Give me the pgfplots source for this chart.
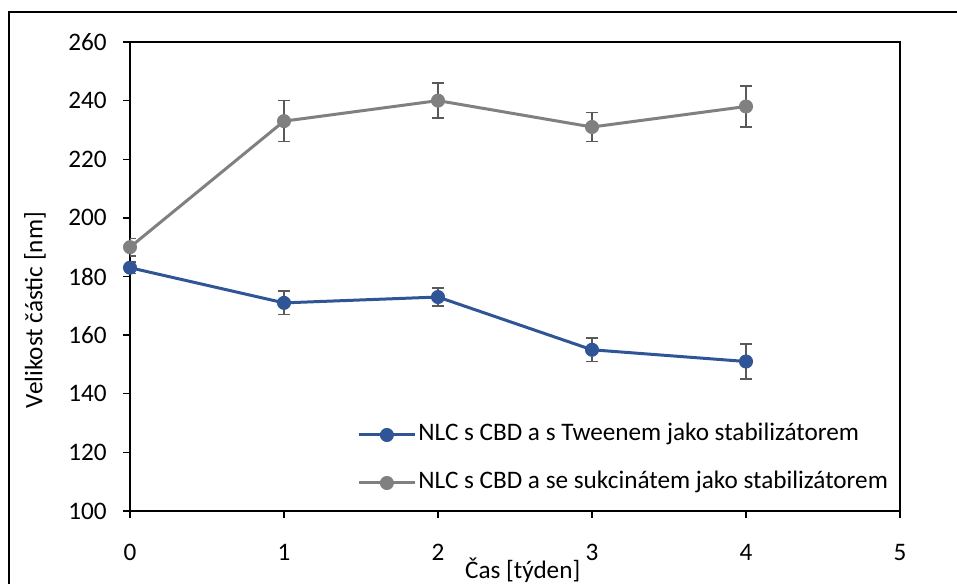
\documentclass[border=0pt]{standalone}
\usepackage{fontspec}
\setmainfont{Carlito}
\usepackage{pgfplots}
\pgfplotsset{compat=1.18}
\definecolor{serblue}{HTML}{2F5597}
\definecolor{sergray}{HTML}{808080}
\definecolor{errgray}{HTML}{595959}
\begin{document}
\begin{tikzpicture}[font=\fontsize{12.6}{15}\selectfont]
\path[use as bounding box] (-65pt,-36pt) rectangle (413.5pt,255.5pt);
\clip (-65pt,-36pt) rectangle (413.5pt,255.5pt);
\draw[line width=0.75pt] (-60.5pt,-60pt) rectangle (440pt,249.5pt);
\begin{axis}[
  scale only axis,
  width=385pt, height=234.5pt,
  at={(0pt,0pt)}, anchor=south west,
  xmin=0, xmax=5, ymin=100, ymax=260,
  xtick={0,1,2,3,4,5},
  ytick={100,120,...,260},
  axis line style={line width=0.7pt, black},
  tick style={line width=0.7pt, black},
  tick align=outside, tick pos=left,
  major tick length=3.5pt,
  /pgf/number format/assume math mode=true,
  xticklabel style={anchor=base, yshift=-21pt},
  yticklabel style={anchor=east, inner sep=0pt, xshift=-8pt},
  xlabel={Čas [týden]},
  ylabel={Velikost částic [nm]},
  xlabel style={at={(axis description cs:0.510,-0.126)}, anchor=center},
  ylabel style={at={(axis description cs:-0.1234,0.4286)}, anchor=center, rotate=0},
  legend style={draw=none, fill=none, at={(rel axis cs:0.2948,0.1109)}, anchor=west,
    inner sep=0pt, row sep=12pt, column sep=1pt,
    nodes={inner sep=0pt, text height=9pt, text depth=3pt}},
  legend cell align=left,
  legend image code/.code={
    \draw[mark repeat=2, mark phase=2] plot coordinates {(0pt,0pt) (14pt,0pt) (28pt,0pt)};
  },
  every axis plot/.append style={line width=1.5pt, mark=*, mark size=3.3pt},
  error bars/error bar style={color=errgray, line width=0.75pt, solid},
  error bars/error mark options={rotate=90, mark size=3pt, line width=0.75pt, color=errgray},
]
\addplot[color=serblue, mark options={fill=serblue, draw=serblue, line width=0.4pt},
  error bars/.cd, y dir=both, y explicit]
  coordinates {
    (0,183) +- (0,2)
    (1,171) +- (0,4)
    (2,173) +- (0,3)
    (3,155) +- (0,4)
    (4,151) +- (0,6)
  };
\addlegendentry{NLC s CBD a s Tweenem jako stabilizátorem}
\addplot[color=sergray, mark options={fill=sergray, draw=sergray, line width=0.4pt},
  error bars/.cd, y dir=both, y explicit]
  coordinates {
    (0,190) +- (0,3)
    (1,233) +- (0,7)
    (2,240) +- (0,6)
    (3,231) +- (0,5)
    (4,238) +- (0,7)
  };
\addlegendentry{NLC s CBD a se sukcinátem jako stabilizátorem}
\end{axis}
\end{tikzpicture}
\end{document}
